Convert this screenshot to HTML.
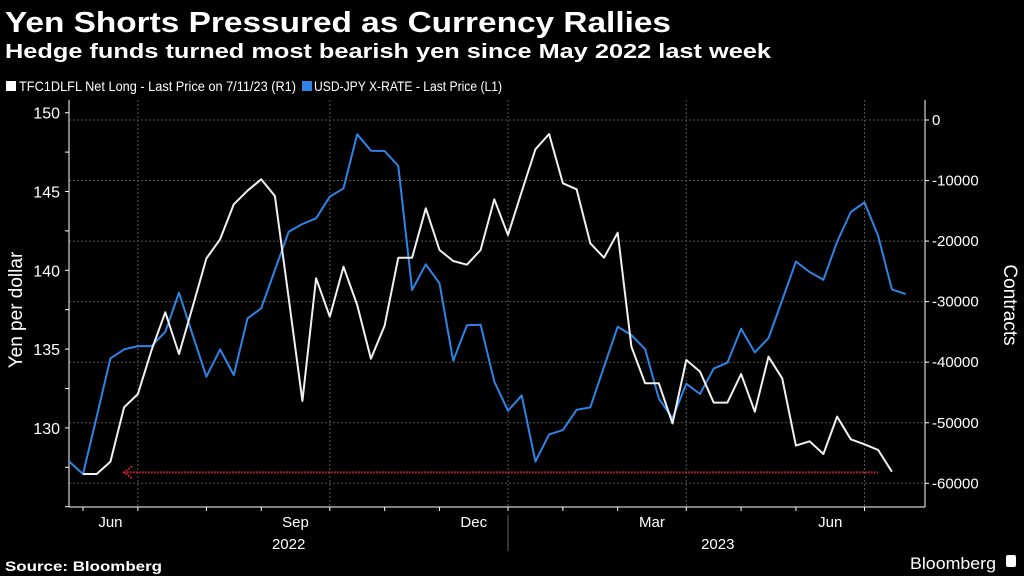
<!DOCTYPE html>
<html><head><meta charset="utf-8"><style>
html,body{margin:0;padding:0;background:#000;width:1024px;height:576px;overflow:hidden}
svg{display:block;font-family:"Liberation Sans Narrow","Liberation Sans",sans-serif}
</style></head><body>
<svg id="c" width="1024" height="576" viewBox="0 0 1024 576">
<rect x="0" y="0" width="1024" height="576" fill="#000"/>
<text x="5" y="32" fill="#fff" font-size="29" font-weight="bold" textLength="666" lengthAdjust="spacingAndGlyphs">Yen Shorts Pressured as Currency Rallies</text>
<text x="5" y="58" fill="#fff" font-size="20" font-weight="bold" textLength="766" lengthAdjust="spacingAndGlyphs">Hedge funds turned most bearish yen since May 2022 last week</text>
<g>
<g><rect x="6" y="81" width="10" height="10" fill="#fff"/><text x="19" y="91" fill="#fff" font-size="14" textLength="277" lengthAdjust="spacingAndGlyphs">TFC1DLFL Net Long - Last Price on 7/11/23 (R1)</text></g>
<g><rect x="302" y="81" width="10" height="10" fill="#2e83e6"/><text x="314" y="91" fill="#fff" font-size="14" textLength="188" lengthAdjust="spacingAndGlyphs">USD-JPY X-RATE - Last Price (L1)</text></g>
</g>
<g id="grid"></g>
<g id="axes"></g>
<g id="series"></g>
<text transform="translate(22,310) rotate(-90)" text-anchor="middle" fill="#fff" font-size="19">Yen per dollar</text>
<text transform="translate(1004,305) rotate(90)" text-anchor="middle" fill="#fff" font-size="19">Contracts</text>
<line x1="508" y1="515" x2="508" y2="551" stroke="#666" stroke-width="1"/>
<text x="5" y="571" fill="#fff" font-size="14" font-weight="bold" textLength="157" lengthAdjust="spacingAndGlyphs">Source: Bloomberg</text>
<text x="996" y="569" text-anchor="end" fill="#fff" font-size="17" textLength="86" lengthAdjust="spacingAndGlyphs">Bloomberg</text>
<rect x="1006" y="555" width="10" height="12" rx="2" fill="#fff"/>
</svg>
<script>
const usdJpy = [127.86,127.07,130.71,134.41,134.98,135.19,135.19,136.10,138.58,135.89,133.25,134.98,133.35,136.95,137.58,140.02,142.45,142.94,143.30,144.67,145.20,148.63,147.59,147.57,146.62,138.75,140.38,139.17,134.26,136.51,136.55,132.93,131.09,132.06,127.86,129.59,129.86,131.15,131.30,133.88,136.42,135.89,135.00,131.87,130.60,132.80,132.15,133.76,134.14,136.29,134.79,135.70,138.11,140.55,139.89,139.40,141.81,143.70,144.31,142.17,138.79,138.49];
const netLong = [null,-58460,-58460,-56430,-47450,-45250,-37980,-31760,-38640,-30830,-22850,-19710,-13930,-11670,-9800,-12550,-29450,-46410,-26150,-32480,-24220,-30550,-39420,-33970,-22740,-22740,-14590,-21470,-23290,-23890,-21470,-13100,-18990,-11840,-4840,-2310,-10460,-11450,-20370,-22740,-18610,-37430,-43490,-43490,-50100,-39640,-41560,-46680,-46680,-41950,-48170,-39090,-42660,-53780,-53070,-55160,-48990,-52740,-53560,-54500,-58080];
const leftTicks = [150,145,140,135,130];
const rightTicks = [0,-10000,-20000,-30000,-40000,-50000,-60000];
const monthLabels = ["Jun","Sep","Dec","Mar","Jun"];
const monthIdx = [3.0,16.5,29.5,42.5,55.5];
const gridIdx = [5,19,32,45,58];
const minorIdx = [1,5,10,14,19,23,27,32,36,40,45,49,53,58];
const yearLabels = ["2022","2023"];
const yearIdx = [16.0,47.3];
const refLevel = -58190;
const refStart = 4;
const refEnd = 59;

const NS="http://www.w3.org/2000/svg";
const X0=69.3, DX=13.71, L=69, R=925, T=100, B=507;
const xs=i=>X0+DX*i;
const yL=v=>112.7+(150-v)*15.76;
const yR=v=>120+(-v)*(363.3/60000);
function mk(tag,attrs,parent,txt){const e=document.createElementNS(NS,tag);for(const k in attrs)e.setAttribute(k,attrs[k]);if(txt!==undefined)e.textContent=txt;parent.appendChild(e);return e;}
const grid=document.getElementById('grid'),axes=document.getElementById('axes'),series=document.getElementById('series');
rightTicks.forEach(v=>{const l=mk('line',{x1:L,x2:R,y1:yR(v),y2:yR(v),stroke:'#555','stroke-dasharray':'2,2','stroke-width':1},grid);


const t=mk('text',{x:R+7,y:yR(v)+5,fill:'#fff','font-size':15},axes,String(v));


mk('line',{x1:R,x2:R+4,y1:yR(v),y2:yR(v),stroke:'#fff'},axes);});
gridIdx.forEach(i=>{const l=mk('line',{x1:xs(i),x2:xs(i),y1:T,y2:B,stroke:'#555','stroke-dasharray':'2,2','stroke-width':1},grid);

});
leftTicks.forEach(v=>{const t=mk('text',{x:60,y:yL(v)+6,fill:'#fff','font-size':16,'text-anchor':'end'},axes,String(v));

});
for(let v=150;v>=125;v-=2.5){mk('line',{x1:L-4,x2:L,y1:yL(v),y2:yL(v),stroke:'#fff'},axes);}
mk('line',{x1:L,x2:L,y1:T,y2:B,stroke:'#fff'},axes);
mk('line',{x1:R,x2:R,y1:T,y2:B,stroke:'#fff'},axes);
mk('line',{x1:L,x2:R,y1:B,y2:B,stroke:'#fff'},axes);
minorIdx.forEach(i=>mk('line',{x1:xs(i),x2:xs(i),y1:B,y2:B+4,stroke:'#fff'},axes));
monthLabels.forEach((m,k)=>{const t=mk('text',{x:xs(monthIdx[k]),y:527,fill:'#fff','font-size':15,'text-anchor':'middle'},axes,m);

});
yearLabels.forEach((m,k)=>{const t=mk('text',{x:xs(yearIdx[k]),y:549,fill:'#fff','font-size':15,'text-anchor':'middle'},axes,m);

});
const ry=yR(refLevel);
const ref=mk('line',{x1:xs(refStart),x2:xs(refEnd),y1:ry,y2:ry,stroke:'#e0203c','stroke-width':2,'stroke-dasharray':'1.5,1.5'},series);


const ar=mk('path',{d:`M${xs(refStart)+8},${ry-6} L${xs(refStart)},${ry} L${xs(refStart)+8},${ry+6}`,fill:'none',stroke:'#e0203c','stroke-width':2,'stroke-dasharray':'1.5,1.5'},series);


function line(vals,f,color,name){let d='';vals.forEach((v,i)=>{if(v===null)return;d+=(d?'L':'M')+xs(i).toFixed(1)+','+f(v).toFixed(1);});
const p=mk('path',{d:d,fill:'none',stroke:color,'stroke-width':2,'stroke-linejoin':'round'},series);

}
line(usdJpy,yL,'#2e83e6','usd-jpy-line');
line(netLong,yR,'#f0f0f0','net-long-line');
</script>
</body></html>
